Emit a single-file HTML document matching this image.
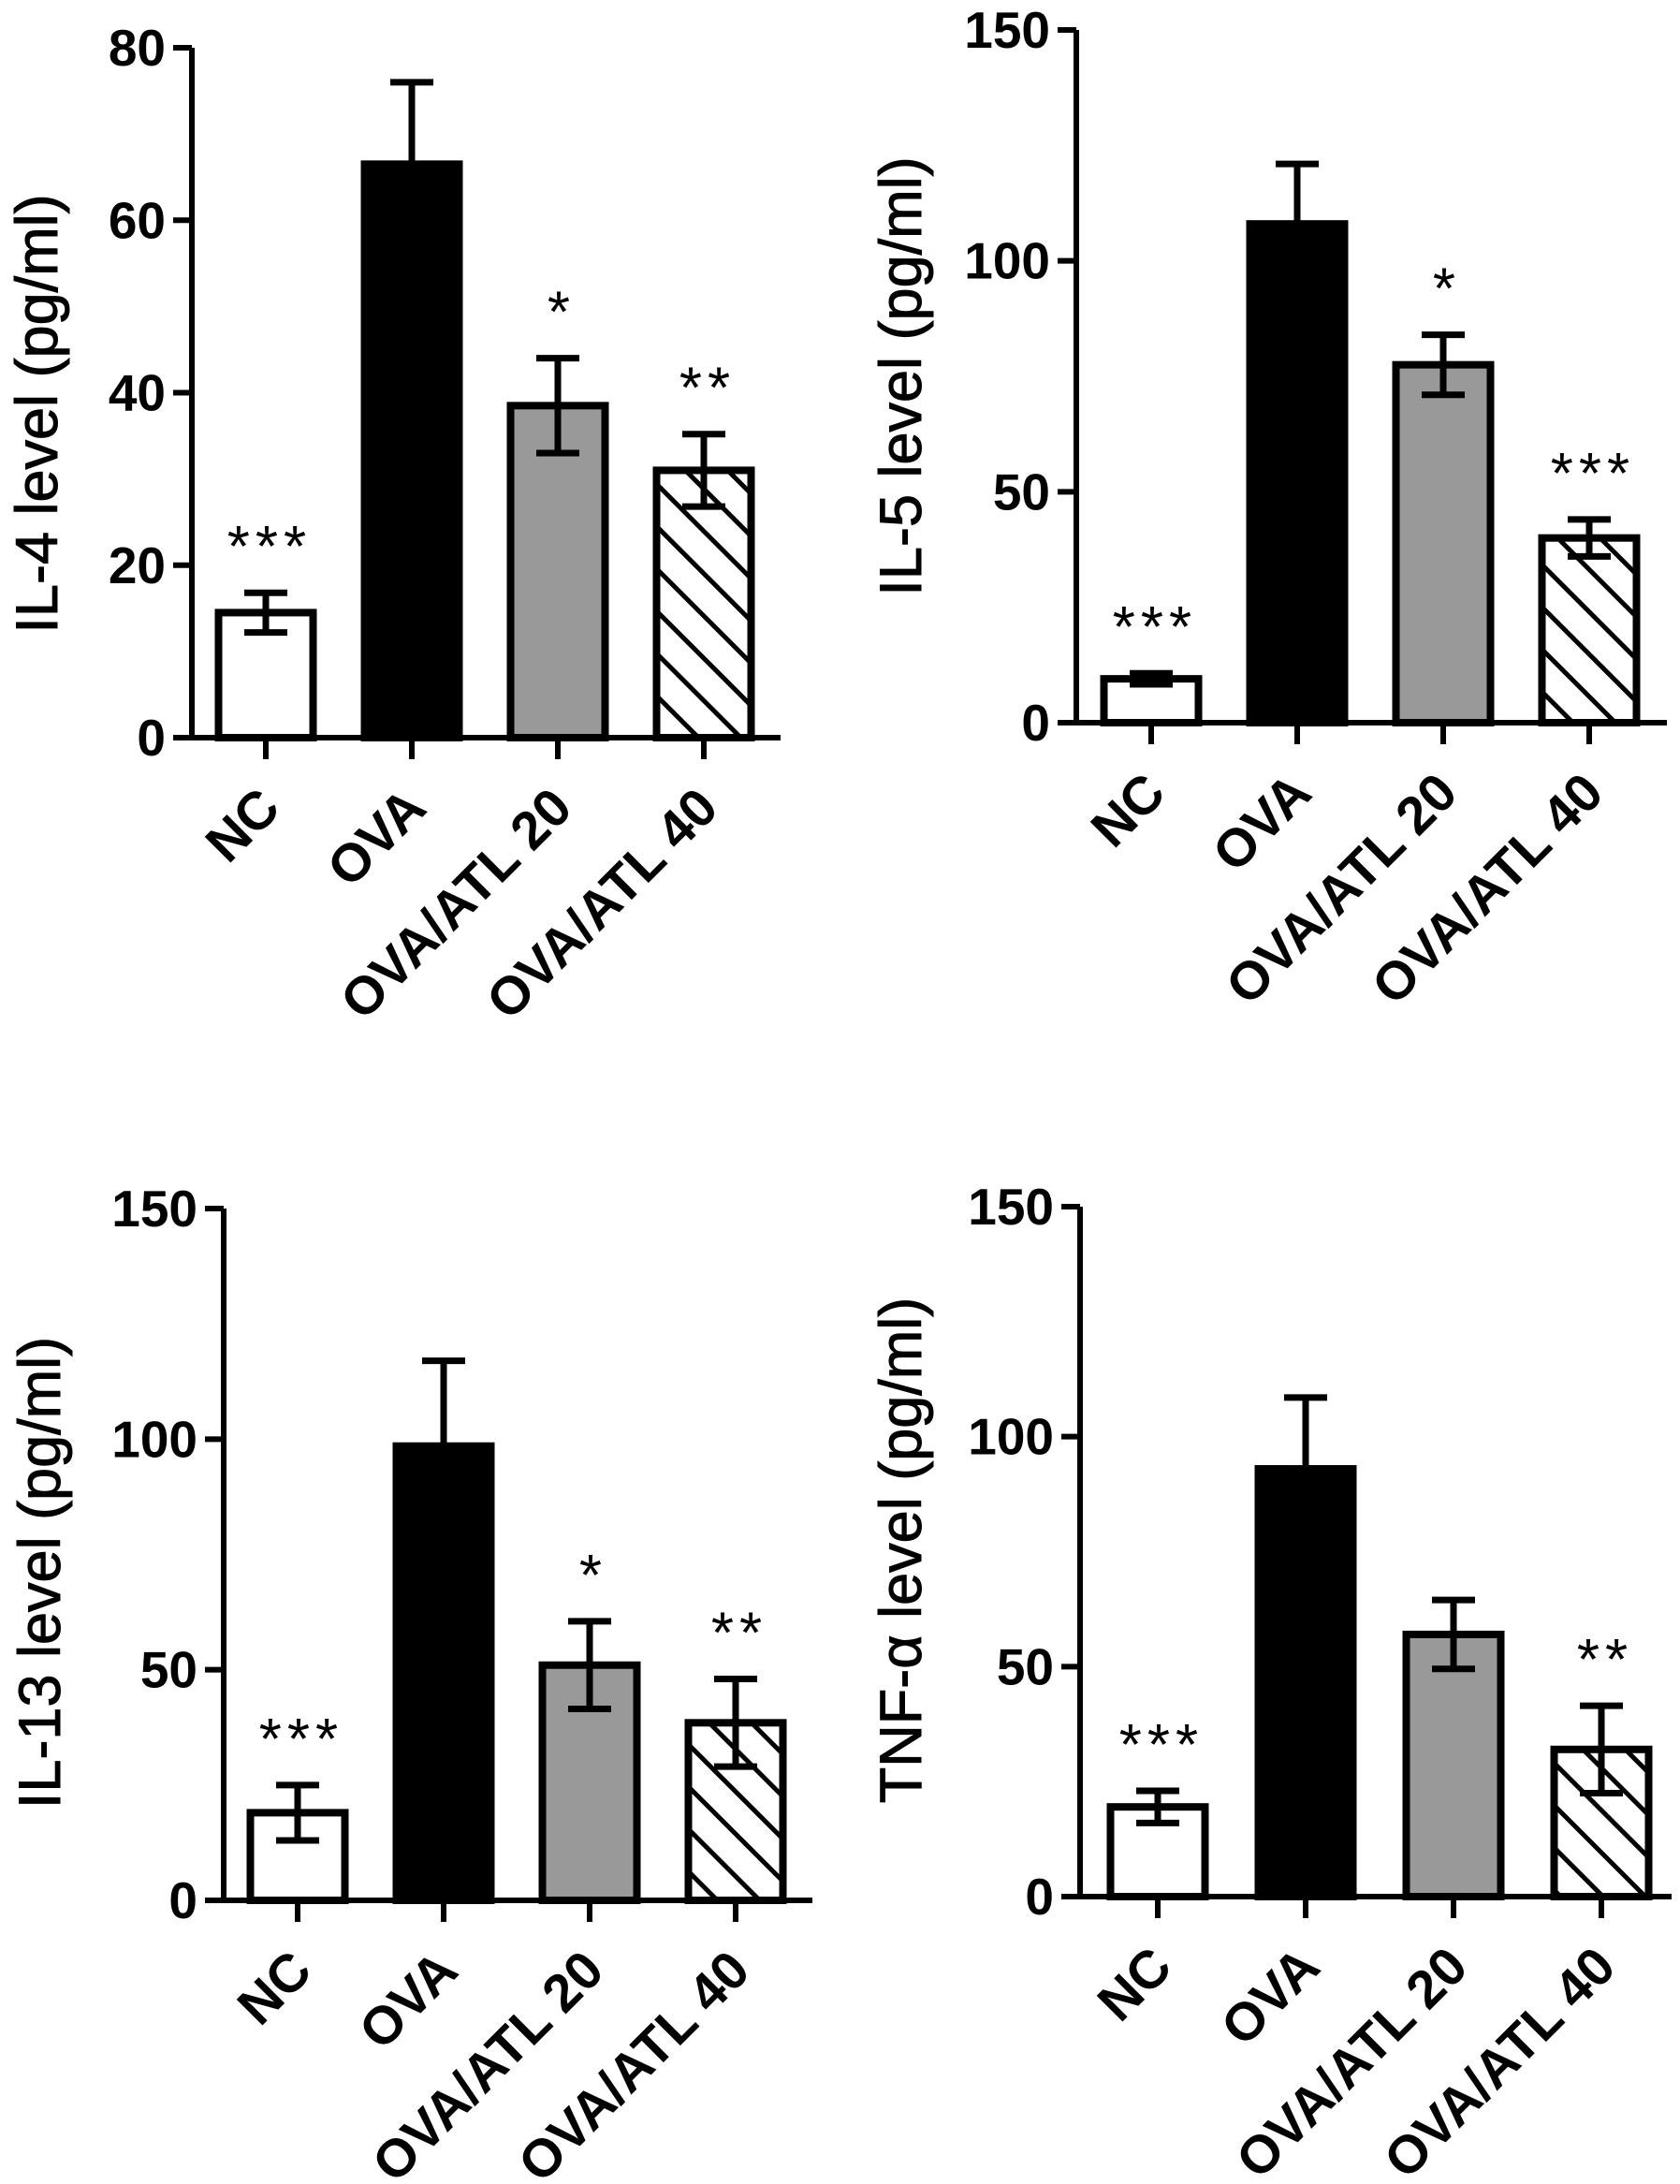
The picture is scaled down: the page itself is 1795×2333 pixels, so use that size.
<!DOCTYPE html>
<html><head><meta charset="utf-8"><style>
html,body{margin:0;padding:0;background:#fff;}
svg{display:block;}
text{font-family:"Liberation Sans",Arial,sans-serif;fill:#000;}
</style></head>
<body>
<svg id="chart" width="1795" height="2333" viewBox="0 0 1795 2333" xmlns="http://www.w3.org/2000/svg">
<defs>
<pattern id="hatch" patternUnits="userSpaceOnUse" width="32" height="32" patternTransform="rotate(-45)">
<rect width="32" height="32" fill="#fff"/>
<rect x="0" y="0" width="5" height="32" fill="#000"/>
</pattern>
</defs>
</svg>
<script>
const categories = ["NC", "OVA", "OVA/ATL 20", "OVA/ATL 40"];
const il4Values = [14.5, 66.5, 38.5, 31];
const il4Errors = [2.3, 9.5, 5.5, 4.2];
const il4Stars = ["***", "", "*", "**"];
const il4Ticks = [0, 20, 40, 60, 80];
const il5Values = [9.5, 108, 77.5, 40];
const il5Errors = [1.2, 13, 6.5, 4];
const il5Stars = ["***", "", "*", "***"];
const il5Ticks = [0, 50, 100, 150];
const il13Values = [19, 98.5, 51, 38.5];
const il13Errors = [6, 18.5, 9.5, 9.5];
const il13Stars = ["***", "", "*", "**"];
const il13Ticks = [0, 50, 100, 150];
const tnfValues = [19.5, 93, 57, 32];
const tnfErrors = [3.5, 15.5, 7.5, 9.5];
const tnfStars = ["***", "", "", "**"];
const tnfTicks = [0, 50, 100, 150];

const NS = "http://www.w3.org/2000/svg";
const svg = document.getElementById("chart");
const fills = ["#fff", "#000", "#999", "url(#hatch)"];

function mk(tag, attrs, parent) {
  const e = document.createElementNS(NS, tag);
  for (const k in attrs) e.setAttribute(k, attrs[k]);
  parent.appendChild(e);
  return e;
}

function panel(cfg, values, errors, stars, ticks) {
  const g = mk("g", {}, svg);
  
  
  const max = ticks[ticks.length - 1];
  const y = v => cfg.y0 - (v / max) * (cfg.y0 - cfg.yTop);
  const bw = 109;
  const xc = i => cfg.ax + cfg.off + cfg.step * i;
  values.forEach((v, i) => {
    const cx = xc(i);
    const r = mk("rect", {x: cx - bw / 2 + 4, y: y(v), width: bw - 8, height: cfg.y0 - y(v), fill: fills[i], stroke: "#000", "stroke-width": 8}, g);
    
    
    const e = errors[i];
    const eb = mk("path", {d: `M${cx},${y(v + e)}V${y(v - e)}M${cx - 23},${y(v + e)}H${cx + 23}M${cx - 23},${y(v - e)}H${cx + 23}`, stroke: "#000", "stroke-width": 7, fill: "none"}, g);
    
    
    if (stars[i]) {
      const s = mk("text", {x: cx + 4, y: y(v + e) - 28, "text-anchor": "middle", "font-size": 62, "letter-spacing": 6}, g);
      s.textContent = stars[i];
      
      
    }
    const t = mk("line", {x1: cx, x2: cx, y1: cfg.y0, y2: cfg.y0 + 23, stroke: "#000", "stroke-width": 6}, g);
    
    
    const lab = mk("text", {transform: `translate(${cx + 18},${cfg.y0 + 78}) rotate(-45)`, "text-anchor": "end", "font-size": 57, "font-weight": "bold"}, g);
    lab.textContent = categories[i];
    
    
  });
  const axes = mk("path", {d: `M${cfg.ax},${cfg.yTop}V${cfg.y0}M${cfg.ax - 3},${cfg.y0}H${cfg.xEnd}`, stroke: "#000", "stroke-width": 6, fill: "none"}, g);
  
  
  ticks.forEach(tv => {
    const l = mk("line", {x1: cfg.ax - 20, x2: cfg.ax, y1: y(tv), y2: y(tv), stroke: "#000", "stroke-width": 6}, g);
    
    
    const tx = mk("text", {x: cfg.ax - 28, y: y(tv) + 19, "text-anchor": "end", "font-size": 55, "font-weight": "bold"}, g);
    tx.textContent = tv;
    
    
  });
  const tt = mk("text", {transform: `translate(${cfg.titleX + 21},${cfg.titleY}) rotate(-90)`, "text-anchor": "middle", "font-size": 63, "stroke": "#000", "stroke-width": 1}, g);
  tt.textContent = cfg.title;
  
  
}

panel({name: "il4-panel", ax: 205, off: 79, step: 156, yTop: 51, y0: 788, xEnd: 834, titleX: 40, titleY: 442, title: "IL-4 level (pg/ml)"}, il4Values, il4Errors, il4Stars, il4Ticks);
panel({name: "il5-panel", ax: 1150, off: 80, step: 156, yTop: 32, y0: 772, xEnd: 1781, titleX: 963, titleY: 402, title: "IL-5 level (pg/ml)"}, il5Values, il5Errors, il5Stars, il5Ticks);
panel({name: "il13-panel", ax: 239, off: 79, step: 156, yTop: 1291, y0: 2030, xEnd: 868, titleX: 43, titleY: 1680, title: "IL-13 level (pg/ml)"}, il13Values, il13Errors, il13Stars, il13Ticks);
panel({name: "tnf-panel", ax: 1154, off: 83, step: 158, yTop: 1289, y0: 2026, xEnd: 1786, titleX: 963, titleY: 1656, title: "TNF-\u03b1 level (pg/ml)"}, tnfValues, tnfErrors, tnfStars, tnfTicks);
</script>
</body></html>
